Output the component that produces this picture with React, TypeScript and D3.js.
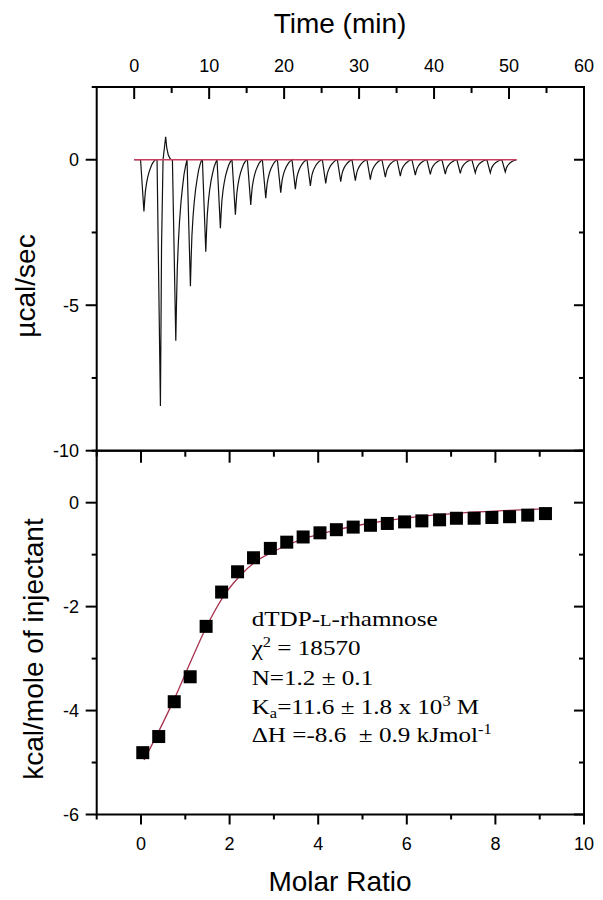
import React from 'react';
import * as d3 from 'd3';

// ---------- data ----------
const timeMajor = [0, 10, 20, 30, 40, 50, 60];
const timeMinor = [5, 15, 25, 35, 45, 55];
const powerMajor = [0, -5, -10];
const powerMinor = [2.5, -2.5, -7.5];
const ratioMajor = [0, 2, 4, 6, 8, 10];
const ratioMinor = [-1, 1, 3, 5, 7, 9];
const heatMajor = [0, -2, -4, -6];
const heatMinor = [1, -1, -3, -5];

// injection peaks of the raw thermogram (time of minimum, µcal/sec at minimum)
const peakTimes = [1.3, 3.5, 5.55, 7.5, 9.55, 11.5, 13.5, 15.55, 17.55, 19.55, 21.5, 23.5, 25.55, 27.55,
  29.5, 31.5, 33.5, 35.5, 37.5, 39.5, 41.5, 43.5, 45.5, 47.5, 49.5];
const peakPower = [-1.78, -8.46, -6.22, -4.35, -3.16, -2.35, -1.89, -1.55, -1.32, -1.13, -1.01, -0.9, -0.81, -0.75,
  -0.72, -0.68, -0.6, -0.56, -0.53, -0.5, -0.49, -0.47, -0.45, -0.45, -0.42];
const reboundTime = [4.2];
const reboundPower = [0.79];
const baselineRange = [0, 51];

// integrated heats
const molarRatio = [0.04, 0.4, 0.75, 1.11, 1.47, 1.82, 2.18, 2.54, 2.92, 3.29, 3.66, 4.04, 4.41, 4.79, 5.18,
  5.56, 5.95, 6.34, 6.74, 7.12, 7.52, 7.92, 8.32, 8.73, 9.13];
const heatPerMole = [-4.81, -4.5, -3.83, -3.35, -2.38, -1.72, -1.33, -1.06, -0.88, -0.76, -0.66, -0.58, -0.52,
  -0.47, -0.435, -0.4, -0.37, -0.35, -0.33, -0.3, -0.3, -0.285, -0.27, -0.24, -0.21];

// fitted curve
const fitRatio = [0.07, 0.4, 0.75, 1.1, 1.46, 1.88, 2.22, 2.56, 2.97, 3.35, 3.8, 4.33, 5.0, 5.83, 6.6, 7.33, 8.3, 9.28];
const fitHeat = [-4.95, -4.4, -3.78, -3.1, -2.42, -1.78, -1.42, -1.15, -0.95, -0.8, -0.66, -0.54, -0.42, -0.31,
  -0.24, -0.19, -0.15, -0.11];

// ---------- layout / style ----------
const W = 603, H = 900;
const L = 96.7, R = 584, T1 = 87, B1 = 450.7, B2 = 814.5;
const sans = '"Liberation Sans", Arial, sans-serif';
const serif = '"Liberation Serif", "Times New Roman", serif';
const red = '#c83c5c';
const fitRed = '#a8324e';
// shape of one injection peak: time offset from minimum, fraction of peak depth
const shapeDt = [-0.45, 0, 0.1, 0.2, 0.35, 0.5, 0.7, 0.9, 1.1, 1.3, 1.5];
const shapeFrac = [0, 1, 0.78, 0.6, 0.45, 0.34, 0.23, 0.15, 0.08, 0.035, 0];

const xTime = d3.scaleLinear().domain([-5, 60]).range([L, R]);
const yPow = d3.scaleLinear().domain([-10, 2.5]).range([B1, T1]);
const xRat = d3.scaleLinear().domain([-1, 10]).range([L, R]);
const yHeat = d3.scaleLinear().domain([-6, 1]).range([B2, B1]);

function buildTrace(): [number, number][] {
  const pts: [number, number][] = [[baselineRange[0], 0]];
  peakTimes.forEach((t0, i) => {
    const d = peakPower[i];
    const ri = reboundTime.findIndex((rt) => rt > t0 && rt < t0 + 1.5);
    if (ri >= 0) {
      const rt = reboundTime[ri], rv = reboundPower[ri];
      pts.push([t0 + shapeDt[0], 0], [t0, d], [t0 + 0.15, d * 0.35], [t0 + 0.35, 0],
        [rt, rv], [rt + 0.15, rv * 0.5], [rt + 0.35, rv * 0.2], [rt + 0.6, rv * 0.04], [rt + 0.8, 0]);
    } else {
      shapeDt.forEach((dt, k) => {
        const t = Math.min(t0 + dt, baselineRange[1]);
        pts.push([t, d * shapeFrac[k]]);
      });
    }
  });
  const last = pts[pts.length - 1][0];
  if (last < baselineRange[1]) pts.push([baselineRange[1], 0]);
  return pts;
}

const traceLine = d3.line<[number, number]>().x((p) => xTime(p[0])).y((p) => yPow(p[1]));
const fitLine = d3.line<number>().x((v) => xRat(v)).y((_, i) => yHeat(fitHeat[i])).curve(d3.curveMonotoneX);

function TicksX({ vals, y, len, scale }: { vals: number[]; y: number; len: number; scale: (v: number) => number }) {
  return (
    <g>
      {vals.map((v) => (
        <line key={v} x1={scale(v)} x2={scale(v)} y1={y} y2={y + len} stroke="#000" strokeWidth={2} />
      ))}
    </g>
  );
}
function TicksY({ vals, x, len, scale }: { vals: number[]; x: number; len: number; scale: (v: number) => number }) {
  return (
    <g>
      {vals.map((v) => (
        <line key={v} x1={x} x2={x + len} y1={scale(v)} y2={scale(v)} stroke="#000" strokeWidth={2} />
      ))}
    </g>
  );
}

const NB = '\u00A0';

export default function App() {
  const trace = buildTrace();
  const sq = 13;
  return (
    <svg width={W} height={H} style={{ position: 'absolute', left: 0, top: 0, background: '#fff' }}>
      <rect x={0} y={0} width={W} height={H} fill="#fff" />
      {/* ---- top panel ---- */}
      <path d={traceLine(trace) || ''} fill="none" stroke="#111" strokeWidth={1.2} />
      <line x1={xTime(baselineRange[0])} x2={xTime(baselineRange[1])} y1={yPow(0)} y2={yPow(0)} stroke={red} strokeWidth={1.5} />

      <TicksX vals={timeMajor} y={T1} len={12} scale={xTime} />
      <TicksX vals={timeMinor} y={T1} len={6} scale={xTime} />
      <TicksY vals={powerMajor} x={L} len={-11} scale={yPow} />
      <TicksY vals={powerMinor} x={L} len={-5} scale={yPow} />
      <TicksY vals={powerMajor} x={R} len={-10} scale={yPow} />
      <TicksY vals={powerMinor} x={R} len={-5} scale={yPow} />
      {timeMajor.map((v) => (
        <text key={v} x={xTime(v)} y={72} fontFamily={sans} fontSize={18} textAnchor="middle">{v}</text>
      ))}
      {powerMajor.map((v) => (
        <text key={v} x={79} y={yPow(v)} dy="0.36em" fontFamily={sans} fontSize={18} textAnchor="end">{v}</text>
      ))}
      <text x={340} y={33} fontFamily={sans} fontSize={28} textAnchor="middle">Time (min)</text>
      <text transform={`translate(35,286) rotate(-90)`} fontFamily={sans} fontSize={28} textAnchor="middle">µcal/sec</text>

      {/* ---- bottom panel ---- */}
      <path d={fitLine(fitRatio) || ''} fill="none" stroke={fitRed} strokeWidth={1.3} />
      {molarRatio.map((v, i) => (
        <rect key={i} x={xRat(v) - sq / 2} y={yHeat(heatPerMole[i]) - sq / 2} width={sq} height={sq} fill="#000" />
      ))}
      <TicksX vals={ratioMajor} y={B1} len={12} scale={xRat} />
      <TicksX vals={ratioMinor} y={B1} len={6} scale={xRat} />
      <TicksX vals={ratioMajor} y={B2} len={10} scale={xRat} />
      <TicksX vals={ratioMinor} y={B2} len={5} scale={xRat} />
      <TicksY vals={heatMajor} x={L} len={-11} scale={yHeat} />
      <TicksY vals={heatMinor} x={L} len={-5} scale={yHeat} />
      <TicksY vals={heatMajor} x={R} len={-10} scale={yHeat} />
      <TicksY vals={heatMinor} x={R} len={-5} scale={yHeat} />
      {ratioMajor.map((v) => (
        <text key={v} x={xRat(v)} y={850} fontFamily={sans} fontSize={18} textAnchor="middle">{v}</text>
      ))}
      {heatMajor.map((v) => (
        <text key={v} x={79} y={yHeat(v)} dy="0.36em" fontFamily={sans} fontSize={18} textAnchor="end">{v}</text>
      ))}
      <text x={340} y={891} fontFamily={sans} fontSize={28} textAnchor="middle">Molar Ratio</text>
      <text transform={`translate(43,649) rotate(-90)`} fontFamily={sans} fontSize={28} textAnchor="middle">kcal/mole of injectant</text>

      <g transform="translate(251.7,0) scale(1.17,1)" fontFamily={serif} fontSize={21.5}>
        <text x={0} y={626}>dTDP-<tspan fontSize={16}>L</tspan>-rhamnose</text>
        <text x={0} y={655}>χ<tspan fontSize={14} dy={-8}>2</tspan><tspan dy={8}> = 18570</tspan></text>
        <text x={0} y={685}>N=1.2 ± 0.1</text>
        <text x={0} y={714}>K<tspan fontSize={14} dy={4}>a</tspan><tspan dy={-4}>=11.6 ± 1.8 x 10</tspan><tspan fontSize={14} dy={-8}>3</tspan><tspan dy={8}> M</tspan></text>
        <text x={0} y={742}>{`ΔH =-8.6 ${NB}± 0.9 kJmol`}<tspan fontSize={14} dy={-8}>-1</tspan></text>
      </g>

      {/* frames */}
      <rect x={L} y={T1} width={R - L} height={B1 - T1} fill="none" stroke="#000" strokeWidth={2} />
      <rect x={L} y={B1} width={R - L} height={B2 - B1} fill="none" stroke="#000" strokeWidth={2} />
    </svg>
  );
}
